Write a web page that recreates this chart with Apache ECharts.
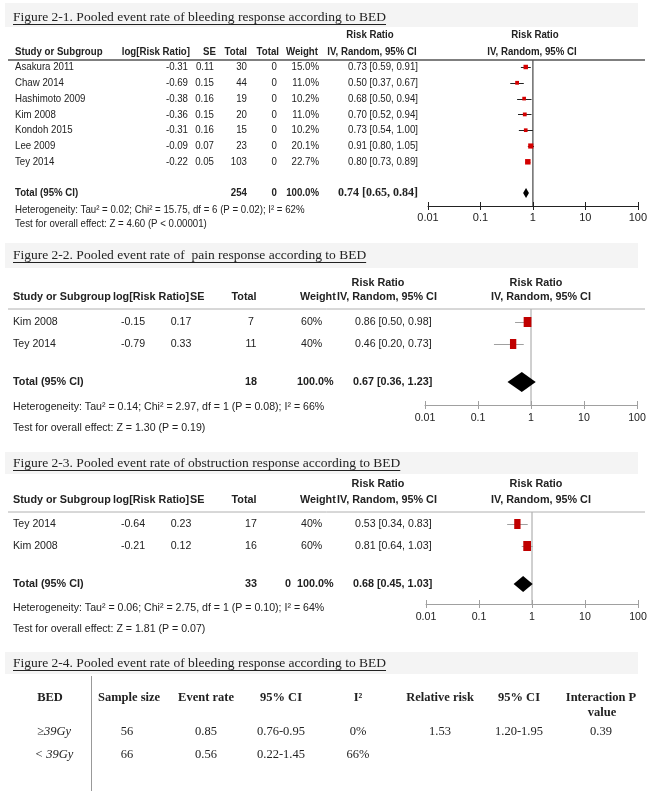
<!DOCTYPE html>
<html><head><meta charset="utf-8">
<script src="https://cdn.jsdelivr.net/npm/echarts@6/dist/echarts.min.js"></script>
<style>html,body{margin:0;padding:0;background:#fff}#c{width:650px;height:791px}</style>
</head><body><div id="c"></div><script>
// ---------------- DATA ----------------
const tickLabels = ['0.01', '0.1', '1', '10', '100'];

const titles = [
  'Figure 2-1. Pooled event rate of bleeding response according to BED',
  'Figure 2-2. Pooled event rate of  pain response according to BED',
  'Figure 2-3. Pooled event rate of obstruction response according to BED',
  'Figure 2-4. Pooled event rate of bleeding response according to BED'
];

// Figure 2-1
const f1Study  = ['Asakura 2011','Chaw 2014','Hashimoto 2009','Kim 2008','Kondoh 2015','Lee 2009','Tey 2014'];
const f1LogRR  = [-0.31,-0.69,-0.38,-0.36,-0.31,-0.09,-0.22];
const f1SE     = [0.11,0.15,0.16,0.15,0.16,0.07,0.05];
const f1Total  = [30,44,19,20,15,23,103];
const f1Total2 = [0,0,0,0,0,0,0];
const f1Weight = [15.0,11.0,10.2,11.0,10.2,20.1,22.7];
const f1RR     = [0.73,0.50,0.68,0.70,0.73,0.91,0.80];
const f1Lo     = [0.59,0.37,0.50,0.52,0.54,0.80,0.73];
const f1Hi     = [0.91,0.67,0.94,0.94,1.00,1.05,0.89];
const f1Pooled = {total:254, total2:0, weight:'100.0%', rr:0.74, lo:0.65, hi:0.84};
const f1Het  = 'Heterogeneity: Tau\u00b2 = 0.02; Chi\u00b2 = 15.75, df = 6 (P = 0.02); I\u00b2 = 62%';
const f1Test = 'Test for overall effect: Z = 4.60 (P < 0.00001)';

// Figure 2-2
const f2Study  = ['Kim 2008','Tey 2014'];
const f2LogRR  = [-0.15,-0.79];
const f2SE     = [0.17,0.33];
const f2Total  = [7,11];
const f2Weight = [60,40];
const f2RR     = [0.86,0.46];
const f2Lo     = [0.50,0.20];
const f2Hi     = [0.98,0.73];
const f2Pooled = {total:18, total2:'', weight:'100.0%', rr:0.67, lo:0.36, hi:1.23};
const f2Het  = 'Heterogeneity: Tau\u00b2 = 0.14; Chi\u00b2 = 2.97, df = 1 (P = 0.08); I\u00b2 = 66%';
const f2Test = 'Test for overall effect: Z = 1.30 (P = 0.19)';

// Figure 2-3
const f3Study  = ['Tey 2014','Kim 2008'];
const f3LogRR  = [-0.64,-0.21];
const f3SE     = [0.23,0.12];
const f3Total  = [17,16];
const f3Weight = [40,60];
const f3RR     = [0.53,0.81];
const f3Lo     = [0.34,0.64];
const f3Hi     = [0.83,1.03];
const f3Pooled = {total:33, total2:0, weight:'100.0%', rr:0.68, lo:0.45, hi:1.03};
const f3Het  = 'Heterogeneity: Tau\u00b2 = 0.06; Chi\u00b2 = 2.75, df = 1 (P = 0.10); I\u00b2 = 64%';
const f3Test = 'Test for overall effect: Z = 1.81 (P = 0.07)';

// Figure 2-4 table
const tblHeader = ['BED','Sample size','Event rate','95% CI','I\u00b2','Relative risk','95% CI','Interaction P'];
const tblHeader2 = ['','','','','','','','value'];
const tblRowLabels = ['\u226539Gy','< 39Gy'];
const tblRows = [
  ['56','0.85','0.76-0.95','0%','1.53','1.20-1.95','0.39'],
  ['66','0.56','0.22-1.45','66%','','','']
];

// ---------------- LAYOUT / STYLE ----------------
const SANS = '"Liberation Sans", Arial, sans-serif';
const SERIF = '"Liberation Serif", "Times New Roman", serif';
const TXT = '#222';
const NARROW_SX = 0.82;   // emulate Arial Narrow

const L = [
  {top:60, bottom:206, left:428, right:638, row0:67, step:15.8, totalPx:193, axisColor:'#222', vColor:'#222',
   ciColor:'#222', sqColor:'#d40000', sq:w=>Math.sqrt(w)*1.15, sqh:null, dh:5, fs:11, lblMargin:6},
  {top:309, bottom:405, left:425, right:637, row0:322, step:22, totalPx:382, axisColor:'#a0a0a0', vColor:'#a0a0a0',
   ciColor:'#a0a0a0', sqColor:'#c00000', sq:w=>Math.sqrt(w)*1.0, sqh:10, dh:10, fs:10.6, lblMargin:8},
  {top:512, bottom:604, left:426, right:638, row0:524, step:22, totalPx:584, axisColor:'#a0a0a0', vColor:'#a0a0a0',
   ciColor:'#a0a0a0', sqColor:'#c00000', sq:w=>Math.sqrt(w)*1.0, sqh:10, dh:8, fs:10.6, lblMargin:8}
];
L.forEach(l => {
  l.ymin = -(l.row0 - l.top) / l.step;
  l.ymax = (l.bottom - l.row0) / l.step;
  l.totalIdx = (l.totalPx - l.row0) / l.step;
});

const figs = [
  {rr:f1RR, lo:f1Lo, hi:f1Hi, w:f1Weight, pooled:f1Pooled},
  {rr:f2RR, lo:f2Lo, hi:f2Hi, w:f2Weight, pooled:f2Pooled},
  {rr:f3RR, lo:f3Lo, hi:f3Hi, w:f3Weight, pooled:f3Pooled}
];

const chart = echarts.init(document.getElementById('c'), null, {renderer:'canvas', width:650, height:791});

const grids = [], xAxes = [], yAxes = [], series = [];
const fmt = v => { const i = Math.round(Math.log10(v)) + 2; return tickLabels[i] !== undefined ? tickLabels[i] : ''; };

L.forEach((l, k) => {
  grids.push({left:l.left, width:l.right - l.left, top:l.top, height:l.bottom - l.top, containLabel:false});
  xAxes.push({type:'log', logBase:10, gridIndex:k, min:0.01, max:100, position:'bottom',
    axisLine:{show:true, onZero:false, lineStyle:{color:l.axisColor, width:1}},
    axisTick:{show:true, inside:true, length:4, lineStyle:{color:l.axisColor}},
    axisLabel:{show:true, formatter:fmt, margin:l.lblMargin, fontSize:l.fs, fontFamily:SANS, color:TXT,
      showMinLabel:true, showMaxLabel:true},
    splitLine:{show:false}, minorTick:{show:false}});
  xAxes.push({type:'log', logBase:10, gridIndex:k, min:0.01, max:100, position:'bottom',
    axisLine:{show:false, onZero:false}, axisTick:{show:true, inside:false, length:4, lineStyle:{color:l.axisColor}},
    axisLabel:{show:false}, splitLine:{show:false}});
  yAxes.push({type:'value', gridIndex:k, inverse:true, min:l.ymin, max:l.ymax, show:false});

  const f = figs[k];
  series.push({type:'line', xAxisIndex:2*k, yAxisIndex:k, data:[[1, l.ymin],[1, l.ymax]], symbol:'none',
    lineStyle:{color:l.vColor, width:1}, silent:true, z:1, animation:false});
  const sdata = f.rr.map((r, i) => [i, r, f.lo[i], f.hi[i], f.w[i]]);
  series.push({type:'custom', coordinateSystem:'cartesian2d', xAxisIndex:2*k, yAxisIndex:k, clip:false,
    encode:{x:[1,2,3], y:0}, data:sdata, animation:false, z:3,
    renderItem:(params, api) => {
      const y = api.value(0), est = api.value(1), lo = api.value(2), hi = api.value(3), w = api.value(4);
      const a = api.coord([lo, y]), b = api.coord([hi, y]), c = api.coord([est, y]);
      const sw = l.sq(w), sh = l.sqh || sw;
      const yy = Math.round(c[1]) + 0.5;
      return {type:'group', children:[
        {type:'line', shape:{x1:a[0], y1:yy, x2:b[0], y2:yy}, style:{stroke:l.ciColor, lineWidth:1}},
        {type:'rect', shape:{x:c[0]-sw/2, y:c[1]-sh/2, width:sw, height:sh}, style:{fill:l.sqColor}}
      ]};
    }});
  series.push({type:'custom', coordinateSystem:'cartesian2d', xAxisIndex:2*k, yAxisIndex:k, clip:false,
    encode:{x:[1,2,3], y:0}, data:[[l.totalIdx, f.pooled.rr, f.pooled.lo, f.pooled.hi]], animation:false, z:3,
    renderItem:(params, api) => {
      const y = api.value(0), est = api.value(1), lo = api.value(2), hi = api.value(3);
      const a = api.coord([lo, y]), b = api.coord([hi, y]), c = api.coord([est, y]);
      return {type:'polygon', shape:{points:[[a[0], a[1]], [c[0], c[1]-l.dh], [b[0], b[1]], [c[0], c[1]+l.dh]]},
        style:{fill:'#000'}};
    }});
});

chart.setOption({animation:false, grid:grids, xAxis:xAxes, yAxis:yAxes, series:series});

// ---------------- TEXT (graphic) ----------------
const G = [];
function T(x, y, s, o) {
  o = o || {};
  const fam = o.family || SANS, size = o.size || 11, wt = o.bold ? 'bold' : 'normal', st = o.italic ? 'italic' : 'normal';
  G.push({type:'text', x:x, y:y, scaleX:o.sx || 1, silent:true, z:10,
    style:{text:s, font:st + ' ' + wt + ' ' + size + 'px ' + fam, fill:o.color || TXT,
      textAlign:o.align || 'left', textVerticalAlign:'middle', align:o.align || 'left', verticalAlign:'middle'}});
}
function HL(x1, x2, y, color, w) {
  G.push({type:'line', silent:true, z:5, shape:{x1:x1, y1:y, x2:x2, y2:y}, style:{stroke:color, lineWidth:w || 1}});
}
function VL(x, y1, y2, color, w) {
  G.push({type:'line', silent:true, z:5, shape:{x1:x, y1:y1, x2:x, y2:y2}, style:{stroke:color, lineWidth:w || 1}});
}
const mctx = document.createElement('canvas').getContext('2d');
const TITLE_FONT = 'normal 13.5px ' + SERIF;
function title(s, y, bandTop, bandBot) {
  G.push({type:'rect', silent:true, z:0, shape:{x:5, y:bandTop, width:633, height:bandBot - bandTop}, style:{fill:'#f4f4f4'}});
  T(13, y, s, {family:SERIF, size:13.5});
  mctx.font = TITLE_FONT;
  const w = mctx.measureText(s).width;
  HL(13, 13 + w, y + 7.5, '#222', 1);
}
const rowY = (k, i) => chart.convertToPixel({yAxisIndex:k}, i);
const f2 = v => v.toFixed(2);
const ci = (r, lo, hi) => f2(r) + ' [' + f2(lo) + ', ' + f2(hi) + ']';
const A = (o, extra) => Object.assign({}, o, extra);

// ----- Figure 2-1 -----
title(titles[0], 17, 3, 27);
{
  const o = {family:SANS, size:11.8, sx:NARROW_SX};
  const ob = {family:SANS, size:11.8, sx:NARROW_SX, bold:true};
  T(370, 35, 'Risk Ratio', A(ob, {align:'center'}));
  T(535, 35, 'Risk Ratio', A(ob, {align:'center'}));
  const hy = 52;
  T(15, hy, 'Study or Subgroup', ob);
  T(190, hy, 'log[Risk Ratio]', A(ob, {align:'right'}));
  T(216, hy, 'SE', A(ob, {align:'right'}));
  T(247, hy, 'Total', A(ob, {align:'right'}));
  T(279, hy, 'Total', A(ob, {align:'right'}));
  T(318, hy, 'Weight', A(ob, {align:'right'}));
  T(372, hy, 'IV, Random, 95% CI', A(ob, {align:'center'}));
  T(532, hy, 'IV, Random, 95% CI', A(ob, {align:'center'}));
  HL(8, 645, 60, '#555', 1.5);
  f1Study.forEach((s, i) => {
    const y = rowY(0, i);
    T(15, y, s, o);
    T(188, y, f2(f1LogRR[i]), A(o, {align:'right'}));
    T(214, y, f2(f1SE[i]), A(o, {align:'right'}));
    T(247, y, String(f1Total[i]), A(o, {align:'right'}));
    T(277, y, String(f1Total2[i]), A(o, {align:'right'}));
    T(319, y, f1Weight[i].toFixed(1) + '%', A(o, {align:'right'}));
    T(418, y, ci(f1RR[i], f1Lo[i], f1Hi[i]), A(o, {align:'right'}));
  });
  const ty = rowY(0, L[0].totalIdx);
  T(15, ty, 'Total (95% CI)', ob);
  T(247, ty, String(f1Pooled.total), A(ob, {align:'right'}));
  T(277, ty, String(f1Pooled.total2), A(ob, {align:'right'}));
  T(319, ty, f1Pooled.weight, A(ob, {align:'right'}));
  T(418, ty, ci(f1Pooled.rr, f1Pooled.lo, f1Pooled.hi), {family:SERIF, size:12, bold:true, align:'right'});
  T(15, 210, f1Het, o);
  T(15, 224, f1Test, o);
}

// ----- Figure 2-2 / 2-3 (same layout) -----
function smallForest(k, tIdx, ty0, rrY, hdrY, lineY, studies, logrr, se, tot, wt, rr, lo, hi, pooled, het, test, hetY, testY, bandTop, bandBot) {
  title(titles[tIdx], ty0, bandTop, bandBot);
  const o = {family:SANS, size:10.6};
  const ob = {family:SANS, size:10.8, bold:true};
  T(378, rrY, 'Risk Ratio', A(ob, {align:'center'}));
  T(536, rrY, 'Risk Ratio', A(ob, {align:'center'}));
  T(13, hdrY, 'Study or Subgroup', ob);
  T(113, hdrY, 'log[Risk Ratio]', ob);
  T(190, hdrY, 'SE', ob);
  T(244, hdrY, 'Total', A(ob, {align:'center'}));
  T(300, hdrY, 'Weight', ob);
  T(387, hdrY, 'IV, Random, 95% CI', A(ob, {align:'center'}));
  T(541, hdrY, 'IV, Random, 95% CI', A(ob, {align:'center'}));
  HL(8, 645, lineY, '#b0b0b0', 1);
  studies.forEach((s, i) => {
    const y = rowY(k, i);
    T(13, y, s, o);
    T(133, y, f2(logrr[i]), A(o, {align:'center'}));
    T(181, y, f2(se[i]), A(o, {align:'center'}));
    T(251, y, String(tot[i]), A(o, {align:'center'}));
    T(301, y, wt[i] + '%', o);
    T(355, y, ci(rr[i], lo[i], hi[i]), o);
  });
  const ty = rowY(k, L[k].totalIdx);
  T(13, ty, 'Total (95% CI)', ob);
  T(251, ty, String(pooled.total), A(ob, {align:'center'}));
  if (pooled.total2 !== '') T(291, ty, String(pooled.total2), A(ob, {align:'right'}));
  T(297, ty, pooled.weight, ob);
  T(353, ty, ci(pooled.rr, pooled.lo, pooled.hi), ob);
  T(13, hetY, het, o);
  T(13, testY, test, o);
}
smallForest(1, 1, 255, 283, 297, 309, f2Study, f2LogRR, f2SE, f2Total, f2Weight, f2RR, f2Lo, f2Hi, f2Pooled, f2Het, f2Test, 407, 428, 243, 268);
smallForest(2, 2, 463, 484, 500, 512, f3Study, f3LogRR, f3SE, f3Total, f3Weight, f3RR, f3Lo, f3Hi, f3Pooled, f3Het, f3Test, 608, 629, 452, 474);

// ----- Figure 2-4 table -----
title(titles[3], 663, 652, 674);
{
  const colX = [50, 129, 206, 281, 358, 440, 519, 601];
  const hb = {family:SERIF, size:12.5, bold:true, align:'center'};
  const hv = {family:SERIF, size:12.5, align:'center'};
  tblHeader.forEach((h, i) => T(colX[i], 698, h, hb));
  tblHeader2.forEach((h, i) => { if (h) T(colX[i] + 1, 713, h, hb); });
  VL(91.5, 676, 791, '#999', 1);
  const rowYs = [732, 755];
  tblRowLabels.forEach((r, j) => T(54, rowYs[j], r, {family:SERIF, size:12.5, italic:true, align:'center'}));
  tblRows.forEach((row, j) => row.forEach((v, i) => { if (v) T(colX[i + 1] - (i === 0 ? 2 : 0), rowYs[j], v, hv); }));
}

chart.setOption({graphic:{elements:G}});
</script></body></html>
